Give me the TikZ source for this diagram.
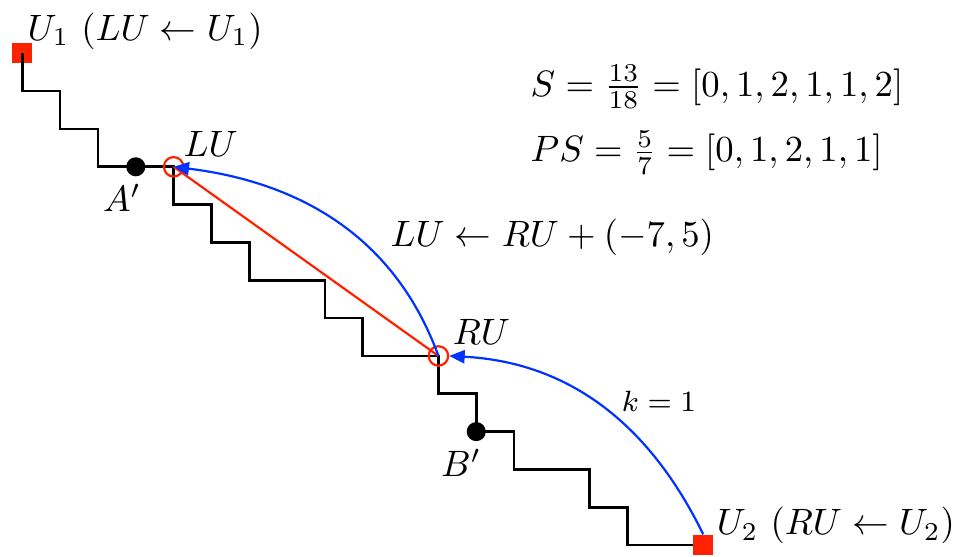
\documentclass[tikz,border=0pt]{standalone}
\usetikzlibrary{arrows.meta}
\definecolor{myred}{RGB}{255,34,0}
\definecolor{myblue}{RGB}{0,51,255}
\begin{document}
\begin{tikzpicture}[x=10.31pt,y=-10.31pt,
  stairs/.style={line width=0.72pt,black},
  endbox/.style={rectangle,fill=myred,minimum size=5.45pt,inner sep=0},
  dotnode/.style={circle,fill=black,minimum size=5.2pt,inner sep=0},
  ring/.style={circle,draw=myred,line width=0.6pt,minimum size=5.3pt,inner sep=0},
  lbl/.style={inner sep=0,anchor=base west},
  lblc/.style={inner sep=0,anchor=base},
  bluearc/.style={myblue,line width=0.6pt,-{Triangle[length=4.2pt,width=3.6pt]}},
  chord/.style={myred,line width=0.6pt}]
\useasboundingbox (-0.5895,-1.409) rectangle (24.814,13.289);
\coordinate (pU1) at (0,0);
\coordinate (pA) at (3,3);
\coordinate (pLU) at (4,3);
\coordinate (pRU) at (11,8);
\coordinate (pB) at (12,10);
\coordinate (pU2) at (18,13);
\node[endbox] (U1) at (pU1) {};
\draw[stairs] (pU1) |- (1,1) |- (2,2) |- (pA) -- (pLU) |- (5,4) |- (6,5) |- (8,6) |- (9,7) |- (pRU) |- (pB |- 9,9) -- (pB) |- (13,10) |- (15,11) |- (16,12) |- (pU2);
\node[endbox] (U2) at (pU2) {};
\node[dotnode] (A) at (pA) {};
\node[dotnode] (B) at (pB) {};
\node[ring] (LU) at (pLU) {};
\node[ring] (RU) at (pRU) {};
\draw[chord] (LU.center) -- (RU.center);
\draw[bluearc] (RU.center) to[out=110,in=-7] (LU.center);
\draw[bluearc] (U2.north) to[out=116,in=-3] (RU.east);
\node[lbl] (t1) at (0.124,-0.35) {$U_1\ (LU \leftarrow U_1)$};
\node[lbl] (t2) at (18.34,12.73) {$U_2\ (RU \leftarrow U_2)$};
\node[lbl] (tLU) at (4.248,2.741) {$LU$};
\node[lbl] (tRU) at (11.36,7.71) {$RU$};
\node[lblc] (tA) at (2.635,4.195) {$A'$};
\node[lblc] (tB) at (11.60,11.20) {$B'$};
\node[lbl] (tS) at (13.42,1.129) {$S=\frac{13}{18}=[0,1,2,1,1,2]$};
\node[lbl] (tPS) at (13.42,2.87) {$PS=\frac{5}{7}=[0,1,2,1,1]$};
\node[lbl] (tupd) at (9.72,5.12) {$LU \leftarrow RU+(-7,5)$};
\node[lbl,font=\footnotesize] (tk) at (15.83,9.48) {$k=1$};
\end{tikzpicture}
\end{document}
